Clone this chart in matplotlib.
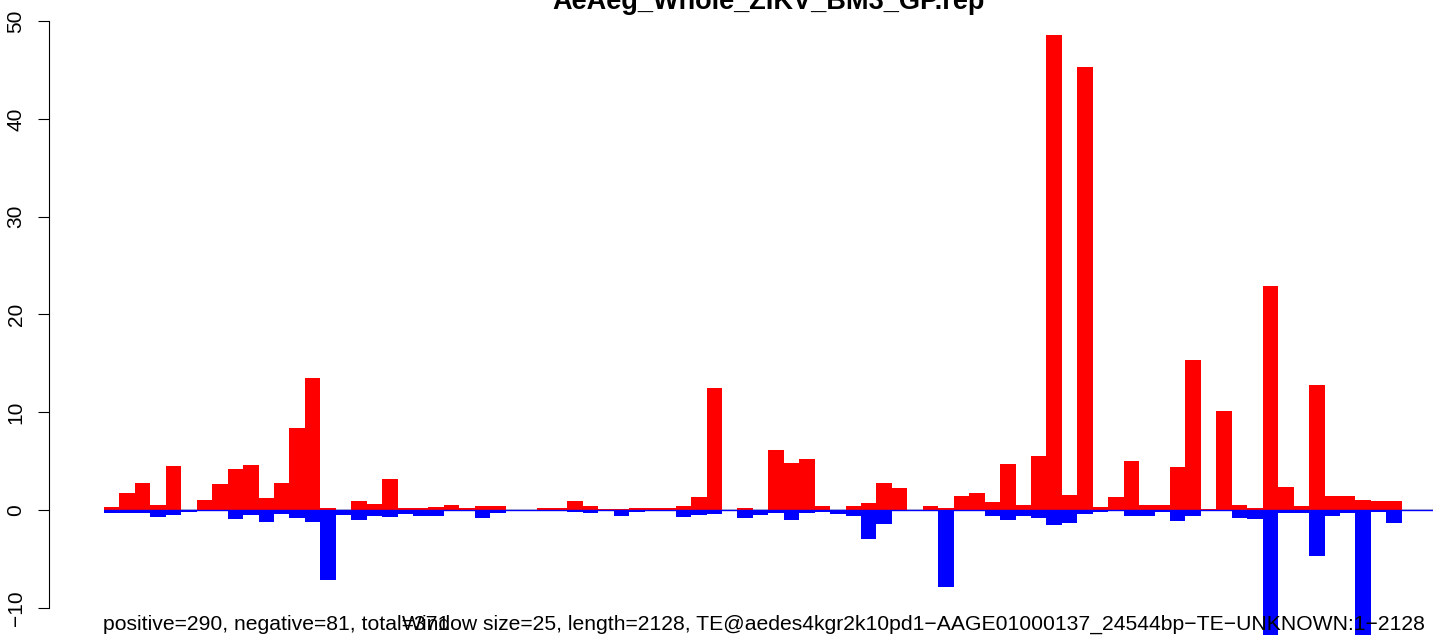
import matplotlib
matplotlib.use("Agg")
import matplotlib.pyplot as plt
import numpy as np

# per-window coverage (window size 25), forward strand up, reverse strand down
pos_vals = [0.3, 1.74, 2.76, 0.5, 4.5, 0, 1.0, 2.66, 4.2, 4.6,
            1.23, 2.76, 8.4, 13.5, 0.2, 0, 0.92, 0.61, 3.17, 0.2,
            0.2, 0.3, 0.51, 0.2, 0.41, 0.41, 0, 0.05, 0.2, 0.2,
            0.92, 0.41, 0.1, 0.1, 0.2, 0.2, 0.2, 0.41, 1.33, 12.5,
            0, 0.2, 0, 6.14, 4.8, 5.2, 0.41, 0, 0.41, 0.72,
            2.76, 2.25, 0, 0.41, 0.2, 1.43, 1.74, 0.82, 4.71, 0.51,
            5.53, 48.6, 1.54, 45.3, 0.3, 1.33, 5.02, 0.51, 0.51, 4.4,
            15.3, 0.1, 10.13, 0.51, 0.2, 22.9, 2.35, 0.41, 12.8, 1.43,
            1.43, 1.02, 0.92, 0.92]
neg_vals = [-0.27, -0.27, -0.27, -0.68, -0.48, -0.17, -0.1, -0.1, -0.89, -0.48,
            -1.2, -0.38, -0.78, -1.2, -7.13, -0.48, -1.02, -0.58, -0.68, -0.38,
            -0.58, -0.58, -0.1, -0.1, -0.78, -0.27, -0.1, 0, 0, 0,
            -0.2, -0.27, 0, -0.58, -0.2, -0.1, -0.1, -0.68, -0.48, -0.38,
            -0.1, -0.78, -0.48, -0.27, -0.99, -0.27, -0.17, -0.38, -0.58, -2.93,
            -1.4, 0, -0.1, -0.1, -7.85, -0.1, -0.1, -0.58, -0.99, -0.58,
            -0.78, -1.5, -1.3, -0.38, -0.17, 0, -0.58, -0.58, -0.17, -1.09,
            -0.58, 0, 0, -0.78, -0.89, -13.5, -0.27, -0.27, -4.68, -0.58,
            -0.27, -13.0, -0.17, -1.3]
yticks = [-10, 0, 10, 20, 30, 40, 50]

title = "AeAeg_Whole_ZIKV_BM3_GP.rep"
info_left = "positive=290, negative=81, total=371"
info_right = "Window size=25, length=2128, TE@aedes4kgr2k10pd1\u2212AAGE01000137_24544bp\u2212TE\u2212UNKNOWN:1\u22122128"

plt.rcParams["font.family"] = ["Liberation Sans", "DejaVu Sans"]

W, H = 1433, 635
fig = plt.figure(figsize=(W / 100, H / 100), dpi=100)
ax = fig.add_axes([49 / W, 0, (W - 49) / W, 1])

x = np.arange(len(pos_vals))
ax.hlines(0, 0, len(pos_vals) + 5, color="#bebebe", lw=1.2, zorder=1)
ax.bar(x, pos_vals, width=1.0, align="edge", color="#ff0000", lw=0, zorder=2)
ax.bar(x, neg_vals, width=1.0, align="edge", color="#0000ff", lw=0, zorder=3)
ax.hlines(0, 0, len(pos_vals) + 5, color="#0000ff", lw=1.0, zorder=4)

ax.set_xlim(-3.56, 86.02)
ax.set_ylim(-12.78, 52.15)

for s in ["top", "right", "bottom"]:
    ax.spines[s].set_visible(False)
ax.spines["left"].set_bounds(yticks[0], yticks[-1])
ax.spines["left"].set_linewidth(0.8)
ax.set_xticks([])
ax.set_yticks(yticks)
ax.set_yticklabels([str(t).replace("-", "\u2212") for t in yticks],
                   rotation=90, va="center", fontsize=15)
ax.tick_params(axis="y", direction="out", length=7.9, width=0.8, pad=9)

fig.text(769 / W, (H - 9) / H, title, ha="center", va="baseline",
         fontsize=19.5, fontweight="bold")
fig.text(103 / W, 5 / H, info_left, ha="left", va="baseline", fontsize=15.2)
fig.text(402 / W, 5 / H, info_right, ha="left", va="baseline", fontsize=15.2)

fig.savefig("out.png", dpi=100)
